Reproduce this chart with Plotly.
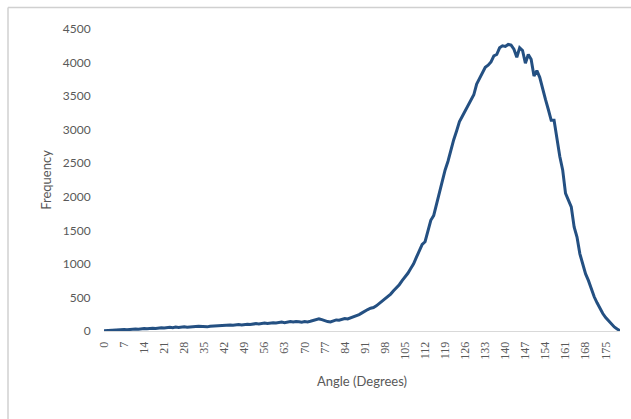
import plotly.graph_objects as go

# Angle bins (degrees) and the count of samples in each bin
angles = list(range(0, 181))
frequency = [
    5, 8, 12, 10, 18, 15, 20, 22, 18, 25,
    28, 30, 26, 35, 38, 33, 40, 42, 38, 45,
    48, 44, 52, 55, 50, 58, 54, 60, 62, 57,
    64, 60, 67, 70, 66, 55, 62, 72, 75, 70,
    78, 82, 77, 85, 88, 84, 92, 95, 90, 98,
    102, 97, 105, 110, 106, 114, 118, 112, 120, 124,
    118, 128, 132, 125, 135, 140, 134, 142, 138, 132,
    140, 136, 145, 155, 172, 180, 170, 152, 140, 135,
    150, 165, 160, 175, 185, 180, 195, 215, 230, 245,
    270, 300, 320, 340, 350, 375, 410, 440, 470, 510,
    550, 600, 640, 690, 750, 800, 860, 930, 1000, 1100,
    1200, 1290, 1330, 1480, 1650, 1720, 1900, 2050, 2250, 2400,
    2530, 2700, 2850, 2980, 3120, 3200, 3280, 3350, 3420, 3520,
    3680, 3760, 3840, 3930, 3960, 4010, 4100, 4120, 4220, 4250,
    4240, 4270, 4260, 4200, 4080, 4220, 4180, 3990, 4120, 4050,
    3800, 3880, 3780, 3600, 3450, 3300, 3140, 3140, 2850, 2600,
    2400, 2050, 1950, 1850, 1550, 1400, 1150, 1000, 850, 750,
    620, 510, 420, 330, 260, 200, 150, 100, 60, 30,
    5,
]

x_ticks = list(range(0, 181, 7))
y_ticks = list(range(0, 4501, 500))

W, H = 631, 419
ML, MR, MT, MB = 104, 11, 29, 88

fig = go.Figure()
fig.add_trace(go.Scatter(
    x=angles, y=frequency, mode="lines",
    line=dict(color="#245082", width=3),
    hoverinfo="x+y",
))

pw = W - ML - MR
ph = H - MT - MB


def px_x(p):
    return (p - ML) / pw


def px_y(p):
    return (H - MB - p) / ph


# chart-area frame (top and left edges)
frame = dict(color="#d0d0d0", width=1.5)
shapes = [
    dict(type="line", xref="paper", yref="paper",
         x0=px_x(8), x1=px_x(W), y0=px_y(7.5), y1=px_y(7.5), line=frame),
    dict(type="line", xref="paper", yref="paper",
         x0=px_x(8), x1=px_x(8), y0=px_y(7.5), y1=px_y(H), line=frame),
]

fig.update_layout(
    width=W, height=H,
    margin=dict(l=ML, r=MR, t=MT, b=MB),
    paper_bgcolor="white", plot_bgcolor="white",
    showlegend=False,
    shapes=shapes,
    xaxis=dict(
        range=[0, 180],
        tickmode="array", tickvals=x_ticks,
        ticktext=[str(v) for v in x_ticks],
        tickangle=-90,
        tickfont=dict(family="Liberation Serif", size=12, color="#595959"),
        ticks="outside", ticklen=5, tickcolor="rgba(0,0,0,0)",
        showgrid=False, zeroline=False,
        showline=True, linecolor="#d9d9d9", linewidth=1,
        title=dict(text="Angle (Degrees)", standoff=18,
                   font=dict(family="Lato", size=13, color="#595959")),
    ),
    yaxis=dict(
        range=[0, 4500],
        tickmode="array", tickvals=y_ticks,
        tickfont=dict(family="Lato", size=12, color="#595959"),
        ticks="outside", ticklen=10, tickcolor="rgba(0,0,0,0)",
        showgrid=False, zeroline=False, showline=False,
        title=dict(text="Frequency", standoff=8,
                   font=dict(family="Lato", size=13, color="#595959")),
    ),
)

fig.write_html("out.html")
